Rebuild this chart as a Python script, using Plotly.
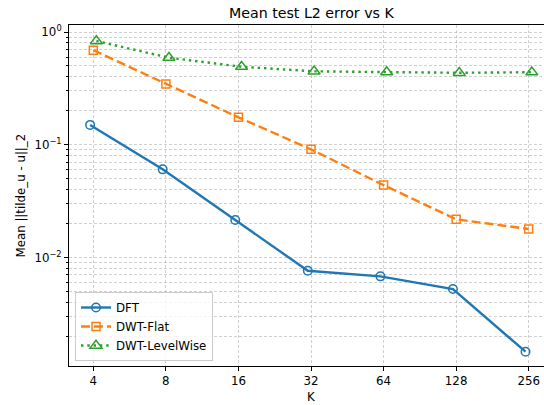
import numpy as np
import plotly.graph_objects as go

# Number of retained coefficients K
K = [4, 8, 16, 32, 64, 128, 256]

# Mean test L2 error per method
dft = [0.150, 0.0605, 0.0215, 0.00762, 0.00680, 0.00525, 0.00146]
dwt_flat = [0.690, 0.346, 0.175, 0.0910, 0.0439, 0.0218, 0.0179]
dwt_levelwise = [0.832, 0.592, 0.492, 0.448, 0.441, 0.435, 0.440]

FONT = "DejaVu Sans"
TICK_PX = 11.8
TITLE_PX = 14.2

# plot-area geometry (pixels)
W, H = 544, 405
L, R, T, B = 69, 0, 25, 39
plot_w = W - L - R
plot_h = H - T - B

series = [
    dict(name="DFT", y=dft, color="#1f77b4", dash="solid", symbol="circle-open", size=8.5, shift=0.97),
    dict(name="DWT-Flat", y=dwt_flat, color="#ff7f0e", dash="9px,4px", symbol="square-open", size=8, shift=1.0),
    dict(name="DWT-LevelWise", y=dwt_levelwise, color="#2ca02c", dash="2.4px,3.9px", symbol="triangle-up-open", size=10.5, shift=1.03),
]

fig = go.Figure()
for s in series:
    fig.add_trace(go.Scatter(
        x=[k * s["shift"] for k in K],
        y=s["y"],
        name=s["name"],
        mode="lines+markers",
        line=dict(color=s["color"], width=2.4, dash=s["dash"]),
        marker=dict(symbol=s["symbol"], size=s["size"], color=s["color"],
                    line=dict(color=s["color"], width=1.5)),
    ))

grid_col = "rgba(170,170,170,0.55)"

# y ticks: decades labelled, 2..9 minor
y_major = [1e-2, 1e-1, 1e0]
y_major_text = ["10<sup>\u22122</sup>", "10<sup>\u22121</sup>", "10<sup>0</sup>"]
y_minor = [m * 10.0 ** e for e in (-3, -2, -1, 0) for m in range(2, 10)]

fig.update_layout(
    width=W, height=H,
    margin=dict(l=L, r=R, t=T, b=B, pad=0),
    paper_bgcolor="white", plot_bgcolor="white",
    font=dict(family=FONT, size=TICK_PX, color="black"),
    showlegend=True,
    legend=dict(
        x=(75 - L) / plot_w, y=(H - B - 361) / plot_h,
        xanchor="left", yanchor="bottom",
        bgcolor="rgba(255,255,255,0.8)",
        bordercolor="#cccccc", borderwidth=1,
        font=dict(family=FONT, size=TICK_PX, color="black"),
        tracegroupgap=0,
    ),
    xaxis=dict(
        type="log",
        range=[0.5013, 2.4717],
        tickvals=K,
        ticktext=[str(k) for k in K],
        ticks="outside", ticklen=4, tickwidth=1, tickcolor="black",
        showline=True, linecolor="black", linewidth=1, mirror=True,
        showgrid=True, gridcolor=grid_col, griddash="3px,2px", gridwidth=1,
        zeroline=False,
        tickfont=dict(family=FONT, size=TICK_PX, color="black"),
    ),
    yaxis=dict(
        type="log",
        range=[np.log10(1.09e-3), np.log10(1.154)],
        tickvals=y_major,
        ticktext=y_major_text,
        ticks="outside", ticklen=4, tickwidth=1, tickcolor="black",
        showline=True, linecolor="black", linewidth=1, mirror=False,
        showgrid=True, gridcolor=grid_col, griddash="3px,2px", gridwidth=1,
        zeroline=False,
        tickfont=dict(family=FONT, size=TICK_PX, color="black"),
        minor=dict(
            tickvals=y_minor,
            ticks="outside", ticklen=2.5, tickwidth=0.8, tickcolor="black",
            showgrid=True, gridcolor=grid_col, griddash="3px,2px", gridwidth=1,
        ),
    ),
    annotations=[
        dict(text="Mean test L2 error vs K", xref="paper", yref="paper",
             x=(312 - L) / plot_w, y=1 + (T - 12.5) / plot_h,
             xanchor="center", yanchor="middle", showarrow=False,
             font=dict(family=FONT, size=TITLE_PX, color="black")),
        dict(text="K", xref="paper", yref="paper",
             x=(311 - L) / plot_w, y=-(397 - (H - B)) / plot_h,
             xanchor="center", yanchor="middle", showarrow=False,
             font=dict(family=FONT, size=TICK_PX, color="black")),
        dict(text="Mean ||tilde_u - u||_2", xref="paper", yref="paper",
             x=-(L - 20) / plot_w, y=0.5, textangle=-90,
             xanchor="center", yanchor="middle", showarrow=False,
             font=dict(family=FONT, size=TICK_PX, color="black")),
    ],
)

fig.write_html("out.html")
